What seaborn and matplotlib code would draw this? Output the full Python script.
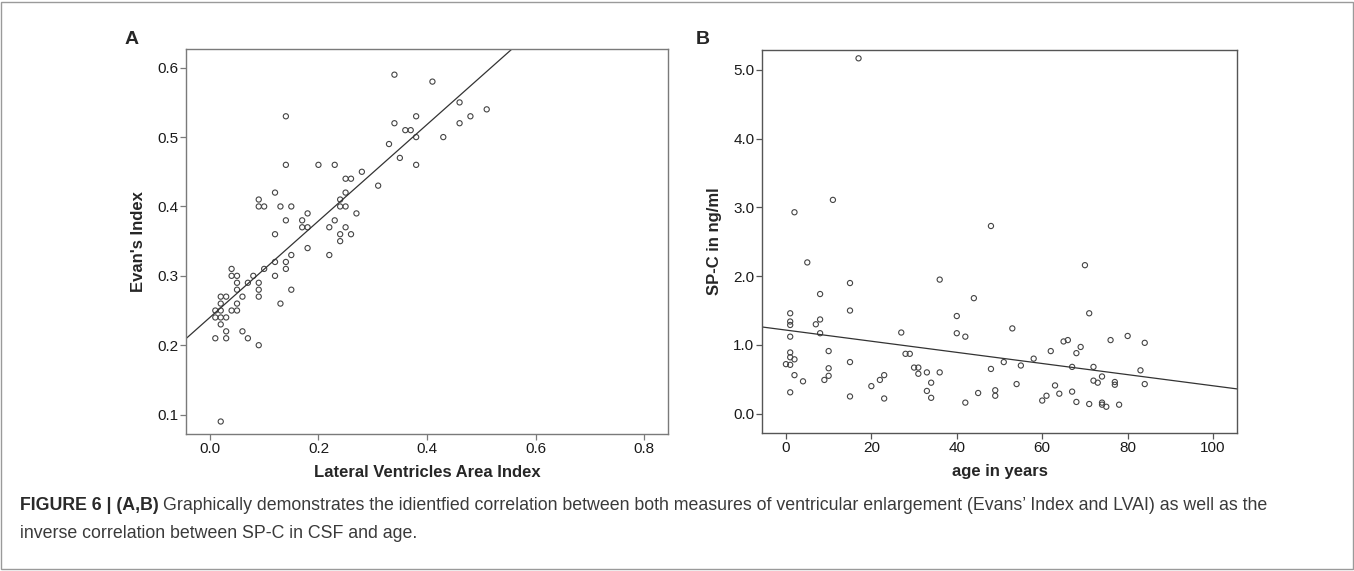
import matplotlib
matplotlib.use("Agg")
import matplotlib.pyplot as plt
import matplotlib.patches as mpatches
import seaborn as sns
import pandas as pd

# ---- Panel A data: Lateral Ventricles Area Index vs Evan's Index ----
lvai = [0.34, 0.41, 0.14, 0.46, 0.51, 0.48, 0.38, 0.34, 0.46, 0.36, 0.37, 0.38, 0.43,
        0.33, 0.35, 0.38, 0.14, 0.20, 0.23, 0.28, 0.25, 0.26, 0.31, 0.12, 0.25, 0.09,
        0.24, 0.09, 0.10, 0.13, 0.15, 0.24, 0.25, 0.18, 0.27, 0.14, 0.17, 0.23, 0.17,
        0.18, 0.22, 0.25, 0.12, 0.24, 0.26, 0.24, 0.18, 0.15, 0.22, 0.12, 0.14, 0.10,
        0.14, 0.04, 0.05, 0.04, 0.08, 0.12, 0.05, 0.07, 0.09, 0.05, 0.09, 0.15, 0.02,
        0.03, 0.06, 0.09, 0.02, 0.05, 0.13, 0.01, 0.02, 0.04, 0.05, 0.01, 0.02, 0.03,
        0.02, 0.03, 0.06, 0.01, 0.03, 0.07, 0.09, 0.02]
evans = [0.59, 0.58, 0.53, 0.55, 0.54, 0.53, 0.53, 0.52, 0.52, 0.51, 0.51, 0.50, 0.50,
         0.49, 0.47, 0.46, 0.46, 0.46, 0.46, 0.45, 0.44, 0.44, 0.43, 0.42, 0.42, 0.41,
         0.41, 0.40, 0.40, 0.40, 0.40, 0.40, 0.40, 0.39, 0.39, 0.38, 0.38, 0.38, 0.37,
         0.37, 0.37, 0.37, 0.36, 0.36, 0.36, 0.35, 0.34, 0.33, 0.33, 0.32, 0.32, 0.31,
         0.31, 0.31, 0.30, 0.30, 0.30, 0.30, 0.29, 0.29, 0.29, 0.28, 0.28, 0.28, 0.27,
         0.27, 0.27, 0.27, 0.26, 0.26, 0.26, 0.25, 0.25, 0.25, 0.25, 0.24, 0.24, 0.24,
         0.23, 0.22, 0.22, 0.21, 0.21, 0.21, 0.20, 0.09]

# ---- Panel B data: age vs SP-C ----
age = [17, 2, 11, 48, 5, 70, 36, 15, 8, 44, 15, 1, 71, 40, 8, 1, 1, 7, 53, 27, 8, 40,
       1, 42, 80, 76, 66, 65, 84, 69, 62, 10, 1, 68, 28, 29, 1, 2, 58, 51, 15, 0, 1,
       55, 67, 72, 30, 31, 10, 48, 83, 33, 36, 31, 2, 23, 10, 74, 9, 22, 72, 4, 73,
       34, 77, 77, 84, 54, 63, 20, 33, 49, 67, 1, 45, 64, 49, 61, 15, 34, 23, 60, 68,
       42, 74, 74, 71, 78, 75]
spc = [5.17, 2.93, 3.11, 2.73, 2.20, 2.16, 1.95, 1.90, 1.74, 1.68, 1.50, 1.46, 1.46,
       1.42, 1.37, 1.34, 1.29, 1.30, 1.24, 1.18, 1.17, 1.17, 1.12, 1.12, 1.13, 1.07,
       1.07, 1.05, 1.03, 0.97, 0.91, 0.91, 0.89, 0.88, 0.87, 0.87, 0.82, 0.79, 0.80,
       0.75, 0.75, 0.72, 0.71, 0.70, 0.68, 0.68, 0.67, 0.67, 0.66, 0.65, 0.63, 0.60,
       0.60, 0.58, 0.56, 0.56, 0.55, 0.54, 0.49, 0.49, 0.48, 0.47, 0.45, 0.45, 0.46,
       0.42, 0.43, 0.43, 0.41, 0.40, 0.33, 0.34, 0.32, 0.31, 0.30, 0.29, 0.26, 0.26,
       0.25, 0.23, 0.22, 0.19, 0.17, 0.16, 0.16, 0.13, 0.14, 0.13, 0.10]

xticks_a = [0.0, 0.2, 0.4, 0.6, 0.8]
yticks_a = [0.1, 0.2, 0.3, 0.4, 0.5, 0.6]
xticks_b = [0, 20, 40, 60, 80, 100]
yticks_b = [0.0, 1.0, 2.0, 3.0, 4.0, 5.0]

sns.set_style("ticks")
plt.rcParams['font.family'] = ['Liberation Sans', 'DejaVu Sans']

df_a = pd.DataFrame({"lvai": lvai, "evans": evans})
df_b = pd.DataFrame({"age": age, "spc": spc})

W, H = 1354, 571
fig = plt.figure(figsize=(W / 100, H / 100), dpi=100)

def px_axes(l, t, r, b):
    return fig.add_axes([l / W, 1 - b / H, (r - l) / W, (b - t) / H])

axA = px_axes(186, 49, 668, 434)
axB = px_axes(762, 50, 1237, 433)

pt_col = "#444444"

def style(ax, spine_col):
    for s in ax.spines.values():
        s.set_visible(True)
        s.set_color(spine_col)
        s.set_linewidth(1.0)
    ax.tick_params(direction="out", length=4, width=0.9, color=spine_col,
                   labelsize=11, labelcolor="#1a1a1a", pad=1.5)

# Panel A
axA.set_xlim(-0.044, 0.844)
axA.set_ylim(0.072, 0.627)
sns.scatterplot(data=df_a, x="lvai", y="evans", ax=axA, marker="o", s=14,
                facecolor="none", edgecolor=pt_col, linewidth=0.8)
sns.regplot(data=df_a, x="lvai", y="evans", ax=axA, scatter=False, ci=None,
            truncate=False, color="#333333", line_kws={"linewidth": 0.9})
axA.set_xlim(-0.044, 0.844)
axA.set_ylim(0.072, 0.627)
axA.set_xticks(xticks_a)
axA.set_yticks(yticks_a)
axA.set_xticklabels([f"{v:.1f}" for v in xticks_a])
axA.set_yticklabels([f"{v:.1f}" for v in yticks_a])
axA.set_xlabel("Lateral Ventricles Area Index", fontsize=12, fontweight="bold", labelpad=7)
axA.set_ylabel("Evan's Index", fontsize=12, fontweight="bold", labelpad=8)
style(axA, "#7a7a7a")

# Panel B
axB.set_xlim(-5.6, 105.6)
axB.set_ylim(-0.282, 5.291)
sns.scatterplot(data=df_b, x="age", y="spc", ax=axB, marker="o", s=14,
                facecolor="none", edgecolor=pt_col, linewidth=0.8)
sns.regplot(data=df_b, x="age", y="spc", ax=axB, scatter=False, ci=None,
            truncate=False, color="#333333", line_kws={"linewidth": 0.9})
axB.set_xlim(-5.6, 105.6)
axB.set_ylim(-0.282, 5.291)
axB.set_xticks(xticks_b)
axB.set_yticks(yticks_b)
axB.set_xticklabels([str(v) for v in xticks_b])
axB.set_yticklabels([f"{v:.1f}" for v in yticks_b])
axB.set_xlabel("age in years", fontsize=12, fontweight="bold", labelpad=7)
axB.set_ylabel("SP-C in ng/ml", fontsize=12, fontweight="bold", labelpad=8)
style(axB, "#555555")

# Panel letters
fig.text(132 / W, 1 - 39 / H, "A", fontsize=14, fontweight="bold", ha="center", va="center")
fig.text(703 / W, 1 - 40 / H, "B", fontsize=14, fontweight="bold", ha="center", va="center")

# Caption
cap_size = 12.8
x0, y1, y2 = 20 / W, 1 - 505 / H, 1 - 533 / H
t_bold = fig.text(x0, y1, "FIGURE 6 | (A,B)", fontsize=cap_size, fontweight="bold",
                  color="#2a2a2a", va="center", ha="left")
fig.canvas.draw()
r = fig.canvas.get_renderer()
bb = t_bold.get_window_extent(renderer=r)
fig.text((bb.x1 + 4) / W, y1,
         "Graphically demonstrates the idientfied correlation between both measures of ventricular "
         "enlargement (Evans\u2019 Index and LVAI) as well as the",
         fontsize=cap_size, color="#3a3a3a", va="center", ha="left")
fig.text(x0, y2, "inverse correlation between SP-C in CSF and age.",
         fontsize=cap_size, color="#3a3a3a", va="center", ha="left")

# Outer frame
fig.patches.append(mpatches.Rectangle((0.5 / W, 2.5 / H), (W - 2) / W, (H - 4) / H,
                                      transform=fig.transFigure, fill=False,
                                      edgecolor="#9a9a9a", linewidth=1.0))

fig.savefig("out.png", dpi=100)
